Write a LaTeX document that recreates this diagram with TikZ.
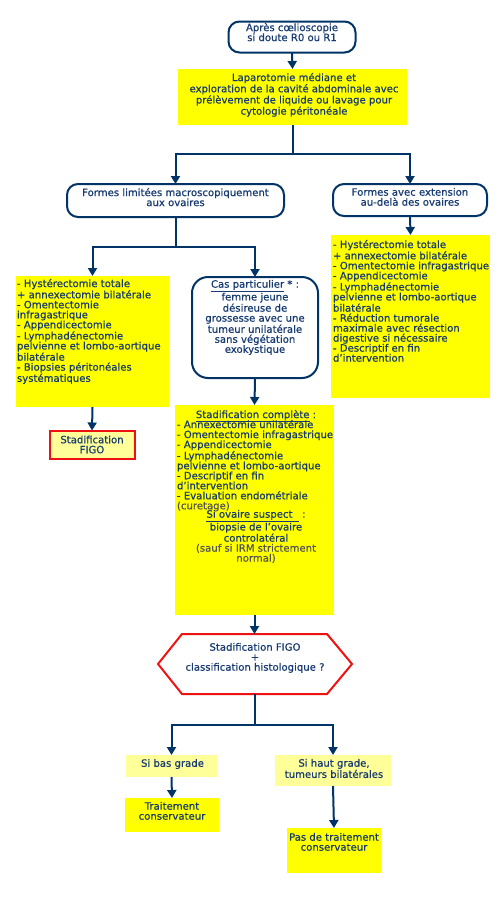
\documentclass[tikz,border=0pt]{standalone}
\usepackage{fontspec}
\setmainfont[FakeBold=0.6]{DejaVu Sans}
\usetikzlibrary{arrows.meta,positioning}
\definecolor{navy}{HTML}{003366}
\definecolor{txtc}{HTML}{173A70}
\definecolor{graytxt}{HTML}{555555}
\definecolor{ylw}{HTML}{FFFF00}
\definecolor{lylw}{HTML}{FFFF99}
\definecolor{redb}{HTML}{EE1111}
\begin{document}
\begin{tikzpicture}[x=1pt,y=-1pt,
  every node/.style={inner sep=0pt,outer sep=0pt,text=txtc,font=\fontsize{10.1}{10}\selectfont},
  term/.style={draw=navy,line width=2pt,fill=white,rounded corners=11pt},
  ybox/.style={fill=ylw},
  lbox/.style={fill=lylw},
  redbox/.style={draw=redb,line width=2pt,fill=lylw},
  ctxt/.style={align=center,anchor=north},
  ltxt/.style={align=left,anchor=north west},
  conn/.style={draw=navy,line width=2pt},
  arr/.style={conn,-{Triangle[width=9pt,length=8pt]}}
]
\useasboundingbox (0,0) rectangle (500,900);
% boxes
\node[term,minimum width=127pt,minimum height=31pt] (top) at (292,37) {};
\node[ctxt] (topt) at (292,23) {Après cœlioscopie\\si doute R0 ou R1};
\node[ybox,minimum width=229pt,minimum height=56pt] (lap) at (292.5,97) {};
\node[ctxt] (lapt) at (294,73) {Laparotomie médiane et\\exploration de la cavité abdominale avec\\prélèvement de liquide ou lavage pour\\cytologie péritonéale};
\node[term,minimum width=217pt,minimum height=33pt] (fl) at (175.5,200.5) {};
\node[ctxt] (flt) at (175.5,188) {Formes limitées macroscopiquement\\aux ovaires};
\node[term,minimum width=154pt,minimum height=32pt] (fa) at (410,200) {};
\node[ctxt] (fat) at (410,188) {Formes avec extension\\au-delà des ovaires};
% left column
\node[ybox,minimum width=153pt,minimum height=131pt] (lyb) at (92.5,341.5) {};
\node[ltxt] (lybt) at (17,279) {- Hystérectomie totale\\+ annexectomie bilatérale\\- Omentectomie\\infragastrique\\- Appendicectomie\\- Lymphadénectomie\\pelvienne et lombo-aortique\\bilatérale\\- Biopsies péritonéales\\systématiques};
\node[redbox,minimum width=85pt,minimum height=28pt,align=center] (figo) at (92,444.5) {Stadification\\FIGO};
% middle column
\node[term,rounded corners=16pt,minimum width=126pt,minimum height=101pt] (cas) at (255,327.5) {};
\node[ctxt] (cast) at (255,280) {\underline{Cas particulier} * :\\femme jeune\\désireuse de\\grossesse avec une\\tumeur unilatérale\\sans végétation\\exokystique};
\node[ybox,minimum width=159pt,minimum height=210pt] (myb) at (254.5,510) {};
\node[ctxt] (mybh) at (256,410) {\underline{Stadification complète} :};
\node[ltxt] (mybl) at (177,420) {- Annexectomie unilatérale\\- Omentectomie infragastrique\\- Appendicectomie\\- Lymphadénectomie\\pelvienne et lombo-aortique\\- Descriptif en fin\\d'intervention\\- Evaluation endométriale\\\textcolor{graytxt}{(curetage)}};
\node[ctxt] (mybs) at (256,510) {\underline{Si ovaire suspect\ \ } :\\biopsie de l'ovaire\\controlatéral\\\textcolor{graytxt}{(sauf si IRM strictement}\\\textcolor{graytxt}{normal)}};
% right column
\node[ybox,minimum width=159pt,minimum height=163pt] (ryb) at (410.5,316.5) {};
\node[ltxt] (rybt) at (333,240) {- Hystérectomie totale\\+ annexectomie bilatérale\\- Omentectomie infragastrique\\- Appendicectomie\\- Lymphadénectomie\\pelvienne et lombo-aortique\\bilatérale\\- Réduction tumorale\\maximale avec résection\\digestive si nécessaire\\- Descriptif en fin\\d'intervention};
% hexagon
\node[minimum width=145pt,minimum height=60pt] (hex) at (254.5,664) {};
\draw[draw=redb,line width=2pt,fill=white] (hex.north west) -- (hex.north east) -- ([xshift=25pt]hex.east) -- (hex.south east) -- (hex.south west) -- ([xshift=-24pt]hex.west) -- cycle;
\node[ctxt] (hext) at (255,643) {Stadification FIGO\\+\\classification histologique ?};
% bottom
\node[lbox,minimum width=91pt,minimum height=22pt] (sbg) at (171.5,766) {};
\node[anchor=center] (sbgt) at (172.5,764) {Si bas grade};
\node[ybox,minimum width=94pt,minimum height=34pt] (tc) at (172,815) {};
\node[ctxt] (tct) at (172,802) {Traitement\\conservateur};
\node[lbox,minimum width=116pt,minimum height=31pt] (shg) at (333,770.5) {};
\node[ctxt] (shgt) at (334,759) {Si haut grade,\\tumeurs bilatérales};
\node[ybox,minimum width=94pt,minimum height=45pt] (pdt) at (334,850.5) {};
\node[ctxt] (pdtt) at (334,833) {Pas de traitement\\conservateur};
% connectors
\draw[arr] (top.south) -- (lap.north);
\draw[conn] (lap.south) -- ++(0,29) coordinate (j1);
\draw[arr] (j1) -| (fl.north);
\draw[arr] (j1) -| (fa.north);
\draw[conn] (fl.south) -- ++(0,30) coordinate (j2);
\draw[arr] (j2) -| (lyb.north);
\draw[arr] (j2) -| (cas.north);
\draw[arr] (fa.south) -- (ryb.north);
\draw[arr] (lyb.south) -- (figo.north);
\draw[arr] (cas.south) -- (myb.north);
\draw[arr] (myb.south) -- (hex.north);
\draw[conn] (hex.south) -- ++(0,31) coordinate (j3);
\draw[arr] (j3) -| (sbg.north);
\draw[arr] (j3) -| (shg.north);
\draw[arr] (sbg.south) -- (tc.north);
\draw[arr] (shg.south) -- (pdt.north);
\end{tikzpicture}
\end{document}
